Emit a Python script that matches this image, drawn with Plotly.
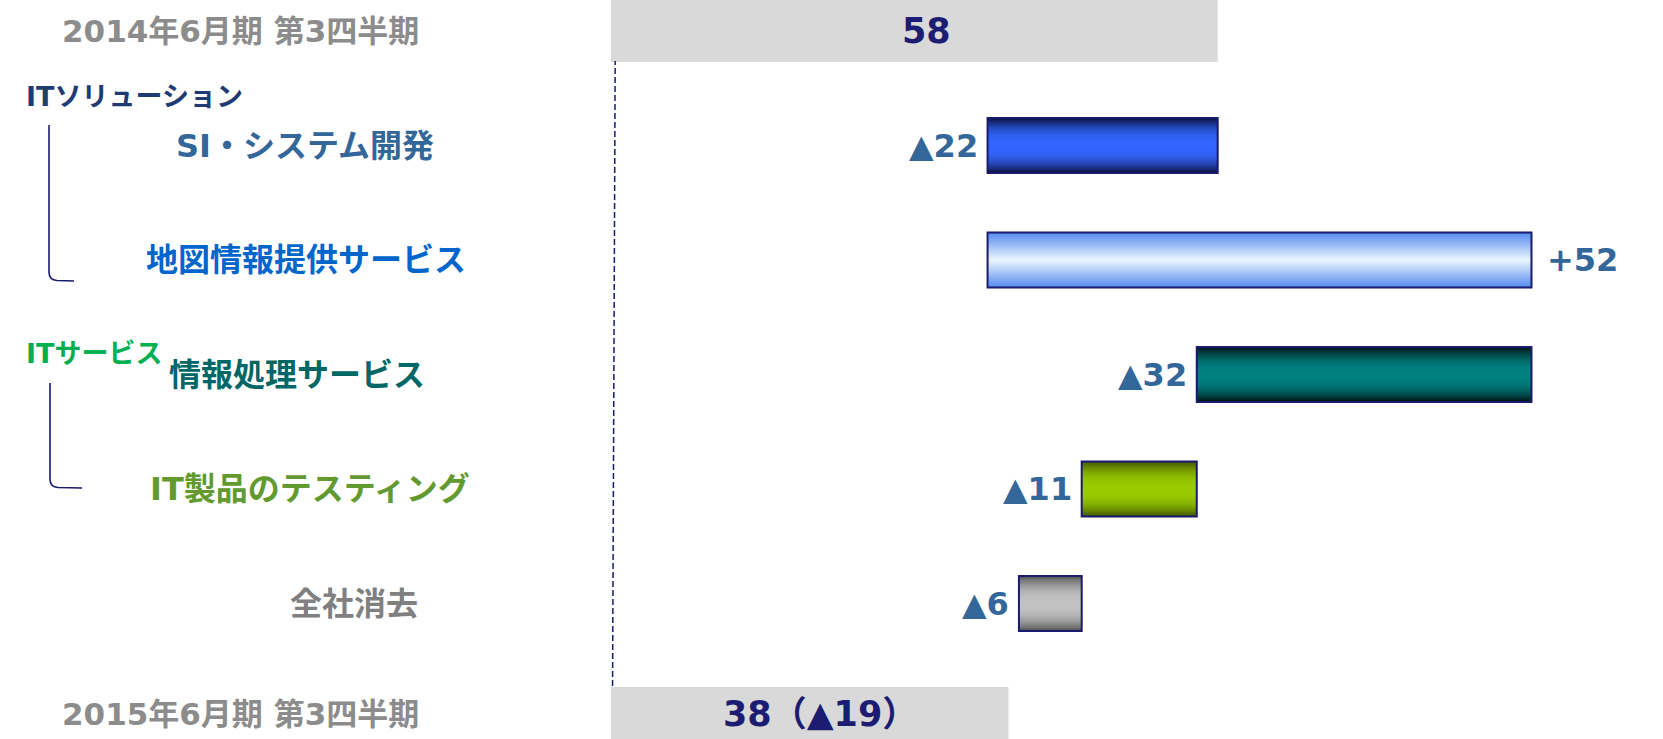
import plotly.graph_objects as go

# ---------------- data ----------------
categories = [
    "2014年6月期 第3四半期",
    "SI・システム開発",
    "地図情報提供サービス",
    "情報処理サービス",
    "IT製品のテスティング",
    "全社消去",
    "2015年6月期 第3四半期",
]
start_value = 58
change_values = [-22, 52, -32, -11, -6]
end_value = 38
end_change = -19
group_labels = ["ITソリューション", "ITサービス"]

# ---------------- styling ----------------
W, H = 1663, 739
FONT = "DejaVu Sans, Noto Sans CJK JP, sans-serif"
NAVY = "#1a1a6e"
TOTAL_GRAY = "#d9d9d9"
VALUE_COLOR = "#336699"
BAR_W = 0.48
TOTAL_W = 0.54
ROW_PX = 114.5
FIRST_ROW_PX = 31
ZERO_PX = 611
PX_PER_UNIT = 10.46

grad_edge = ["#0e1442", "#5a8cf0", "#001515", "#465800", "#575757"]
grad_center = ["#3366ff", "#f0faff", "#008080", "#99cc00", "#c2c2c2"]
grad_power = [2.5, 1.0, 2.5, 2.5, 2.5]
label_colors = ["#336699", "#0066cc", "#006666", "#639a2f", "#808080"]


def hex2rgb(h):
    h = h.lstrip("#")
    return tuple(int(h[i:i + 2], 16) for i in (0, 2, 4))


def mix(c1, c2, t):
    a, b = hex2rgb(c1), hex2rgb(c2)
    return "rgb(%d,%d,%d)" % tuple(round(a[i] + (b[i] - a[i]) * t) for i in range(3))


def fmt_change(v):
    return ("+%d" % v) if v > 0 else ("▲%d" % abs(v))


def px(x):
    return x / W


def py(y):
    return 1 - y / H


# waterfall bases
bases = []
cum = start_value
for v in change_values:
    bases.append(cum)
    cum += v

change_cats = categories[1:6]

fig = go.Figure()

# totals
fig.add_trace(go.Bar(
    orientation="h",
    y=[categories[0], categories[6]],
    x=[start_value, end_value],
    width=TOTAL_W,
    marker=dict(color=TOTAL_GRAY, line=dict(width=0)),
    hoverinfo="skip", showlegend=False,
))

# gradient layers for change bars
N = 18
for k in range(N):
    f = 1 - k / N
    colors = [mix(e, c, 1 - f ** p) for e, c, p in zip(grad_edge, grad_center, grad_power)]
    fig.add_trace(go.Bar(
        orientation="h",
        y=change_cats,
        x=change_values,
        base=bases,
        width=BAR_W * f,
        marker=dict(color=colors, line=dict(width=0)),
        hoverinfo="skip", showlegend=False,
    ))

# outline
fig.add_trace(go.Bar(
    orientation="h",
    y=change_cats,
    x=change_values,
    base=bases,
    width=BAR_W,
    marker=dict(color="rgba(0,0,0,0)", line=dict(color=NAVY, width=2)),
    hoverinfo="skip", showlegend=False,
))

annotations = []

# value labels for changes
for cat, b, v in zip(change_cats, bases, change_values):
    end = b + v
    if v < 0:
        annotations.append(dict(x=end, y=cat, xref="x", yref="y", text="<b>%s</b>" % fmt_change(v),
                                showarrow=False, xanchor="right", xshift=-8,
                                font=dict(family=FONT, size=32, color=VALUE_COLOR)))
    else:
        annotations.append(dict(x=end, y=cat, xref="x", yref="y", text="<b>%s</b>" % fmt_change(v),
                                showarrow=False, xanchor="left", xshift=14,
                                font=dict(family=FONT, size=32, color=VALUE_COLOR)))

# total labels
annotations.append(dict(x=start_value / 2, y=categories[0], xref="x", yref="y",
                        text="<b>%d</b>" % start_value, showarrow=False, xshift=12,
                        font=dict(family=FONT, size=35, color="#1c1c73")))
annotations.append(dict(x=end_value / 2, y=categories[6], xref="x", yref="y",
                        text="<b>%d（%s）</b>" % (end_value, fmt_change(end_change)),
                        showarrow=False, xshift=10, yshift=4,
                        font=dict(family=FONT, size=35, color="#1c1c73")))

# category labels on the left
annotations.append(dict(x=px(240), y=categories[0], xref="paper", yref="y",
                        text="<b>%s</b>" % categories[0], showarrow=False, xanchor="center",
                        font=dict(family=FONT, size=31, color="#8c8c8c")))
annotations.append(dict(x=px(240), y=categories[6], xref="paper", yref="y",
                        text="<b>%s</b>" % categories[6], showarrow=False, xanchor="center",
                        yshift=4, font=dict(family=FONT, size=31, color="#8c8c8c")))
label_x = [305, 306, 297, 310, 420]
for i, (cat, col) in enumerate(zip(change_cats, label_colors)):
    anchor = "right" if i == 4 else "center"
    annotations.append(dict(x=px(label_x[i]), y=cat, xref="paper", yref="y",
                            text="<b>%s</b>" % cat, showarrow=False, xanchor=anchor,
                            font=dict(family=FONT, size=32, color=col)))

# group headers
annotations.append(dict(x=px(24), y=py(96), xref="paper", yref="paper",
                        text="<b>%s</b>" % group_labels[0], showarrow=False, xanchor="left",
                        yanchor="middle", font=dict(family=FONT, size=27, color="#1f3b73")))
annotations.append(dict(x=px(24), y=py(353), xref="paper", yref="paper",
                        text="<b>%s</b>" % group_labels[1], showarrow=False, xanchor="left",
                        yanchor="middle", font=dict(family=FONT, size=27, color="#00b050")))


def bracket(x, y0, y1, x1):
    return ("M %f,%f L %f,%f Q %f,%f %f,%f L %f,%f" % (
        px(x), py(y0), px(x), py(y1 - 8), px(x), py(y1), px(x + 8), py(y1 + 0.5),
        px(x1), py(y1 + 1)))


shapes = [
    dict(type="line", xref="x", yref="paper", x0=0.15, x1=0.4, y0=py(686), y1=py(61),
         line=dict(color=NAVY, width=1.5, dash="6px,3px")),
    dict(type="path", xref="paper", yref="paper", path=bracket(49, 125, 280, 74),
         line=dict(color=NAVY, width=1.6)),
    dict(type="path", xref="paper", yref="paper", path=bracket(50, 383, 487, 82),
         line=dict(color=NAVY, width=1.6)),
]

y_top = -FIRST_ROW_PX / ROW_PX
y_bottom = y_top + H / ROW_PX

fig.update_layout(
    width=W, height=H,
    margin=dict(l=0, r=0, t=0, b=0),
    paper_bgcolor="white", plot_bgcolor="white",
    barmode="overlay",
    showlegend=False,
    xaxis=dict(range=[-ZERO_PX / PX_PER_UNIT, (W - ZERO_PX) / PX_PER_UNIT],
               visible=False, fixedrange=True),
    yaxis=dict(type="category", categoryorder="array", categoryarray=categories,
               range=[y_bottom, y_top], visible=False, fixedrange=True),
    annotations=annotations,
    shapes=shapes,
)

fig.write_html("out.html", config={"displayModeBar": False, "staticPlot": True},
               post_script="document.body.style.margin='0';document.documentElement.style.overflow='hidden';")
